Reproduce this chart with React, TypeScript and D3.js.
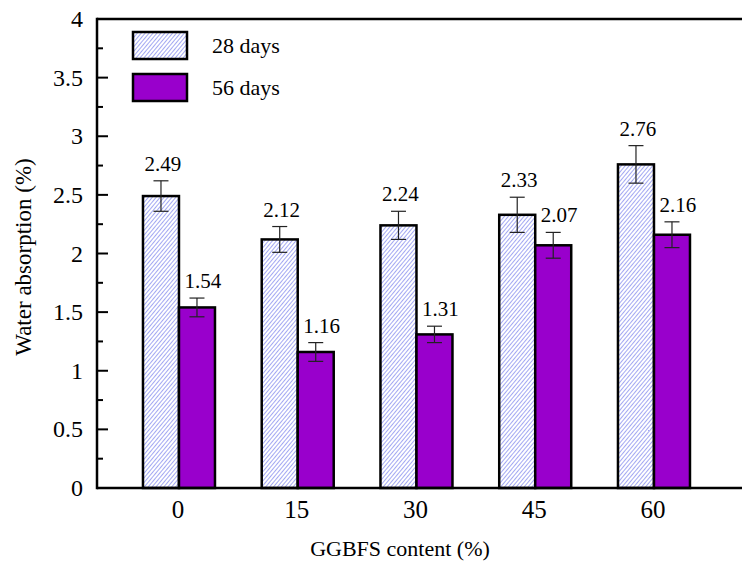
import React from "react";
import * as d3 from "d3";

const categories = ["0", "15", "30", "45", "60"];
const days28 = [2.49, 2.12, 2.24, 2.33, 2.76];
const days56 = [1.54, 1.16, 1.31, 2.07, 2.16];
const err28 = [0.13, 0.11, 0.12, 0.15, 0.16];
const err56 = [0.08, 0.08, 0.07, 0.11, 0.11];
const yTicks = [0, 0.5, 1, 1.5, 2, 2.5, 3, 3.5, 4];
const yMinorTicks = [0.25, 0.75, 1.25, 1.75, 2.25, 2.75, 3.25, 3.75];
const seriesNames = ["28 days", "56 days"];

const W = 742;
const H = 562;
const left = 97;
const top = 19;
const bottom = 488;
const PURPLE = "#9900CC";

export default function App() {
  const y = d3.scaleLinear().domain([0, 4]).range([bottom, top]);
  const x = d3
    .scaleBand()
    .domain(categories)
    .range([left + 22.6, left + 22.6 + 5 * 118.75])
    .paddingInner(0)
    .paddingOuter(0);
  const bw = 36;
  const center = (c: string) => (x(c) as number) + x.bandwidth() / 2;

  const series = [
    { vals: days28, errs: err28, fill: "url(#hatch)", dx: -bw, lx: 2 },
    { vals: days56, errs: err56, fill: PURPLE, dx: 0, lx: 6 },
  ];

  return (
    <svg width={W} height={H} style={{ position: "absolute", left: 0, top: 0, background: "#fff" }}>
      <style>{`text { font-family: "Liberation Serif", "Times New Roman", serif; fill: #000; }`}</style>
      <defs>
        <pattern id="hatch" width="3" height="3" patternUnits="userSpaceOnUse" patternTransform="rotate(40)">
          <rect width="3" height="3" fill="#ffffff" />
          <line x1="0.5" y1="0" x2="0.5" y2="3" stroke="#a3a8f2" strokeWidth="1" />
        </pattern>
      </defs>

      {series.map((s, si) =>
        categories.map((c, i) => {
          const yv = y(s.vals[i]);
          return (
            <rect
              key={`b${si}-${i}`}
              x={center(c) + s.dx}
              y={yv}
              width={bw}
              height={bottom - yv}
              fill={s.fill}
              stroke="#000"
              strokeWidth={2.5}
            />
          );
        })
      )}

      {series.map((s, si) =>
        categories.map((c, i) => {
          const bx = center(c) + s.dx + bw / 2;
          const yt = y(s.vals[i] + s.errs[i]);
          const yb = y(s.vals[i] - s.errs[i]);
          return (
            <g key={`e${si}-${i}`}>
              <line x1={bx} x2={bx} y1={yt} y2={yb} stroke="#222" strokeWidth={1.2} />
              <line x1={bx - 7.5} x2={bx + 7.5} y1={yt} y2={yt} stroke="#222" strokeWidth={1.2} />
              <line x1={bx - 7.5} x2={bx + 7.5} y1={yb} y2={yb} stroke="#222" strokeWidth={1.2} />
              <text x={bx + s.lx} y={yt - 10} textAnchor="middle" fontSize="21px">
                {s.vals[i].toFixed(2)}
              </text>
            </g>
          );
        })
      )}

      <line x1={left} x2={W} y1={top} y2={top} stroke="#000" strokeWidth={2.5} />
      <line x1={left} x2={W} y1={bottom} y2={bottom} stroke="#000" strokeWidth={2.5} />
      <line x1={left} x2={left} y1={top - 1.25} y2={bottom + 1.25} stroke="#000" strokeWidth={2.5} />

      {yTicks.map((t) => (
        <g key={`yt${t}`}>
          <line x1={left} x2={left + 11} y1={y(t)} y2={y(t)} stroke="#000" strokeWidth={2} />
          <text x={83} y={y(t) + 8} textAnchor="end" fontSize="24px">
            {t}
          </text>
        </g>
      ))}
      {yMinorTicks.map((t) => (
        <line key={`ym${t}`} x1={left} x2={left + 6} y1={y(t)} y2={y(t)} stroke="#000" strokeWidth={2} />
      ))}

      {categories.map((c) => (
        <text key={`xl${c}`} x={center(c) - 1} y={518} textAnchor="middle" fontSize="25px">
          {c}
        </text>
      ))}

      <text x={400} y={556} textAnchor="middle" fontSize="22px">
        GGBFS content (%)
      </text>
      <text transform="translate(31, 257) rotate(-90)" textAnchor="middle" fontSize="23px">
        Water absorption (%)
      </text>

      {seriesNames.map((n, i) => (
        <g key={`lg${i}`}>
          <rect x={133} y={32 + i * 42} width={54} height={27} fill={series[i].fill} stroke="#000" strokeWidth={2.5} />
          <text x={212} y={53 + i * 42} fontSize="22px">
            {n}
          </text>
        </g>
      ))}
    </svg>
  );
}
